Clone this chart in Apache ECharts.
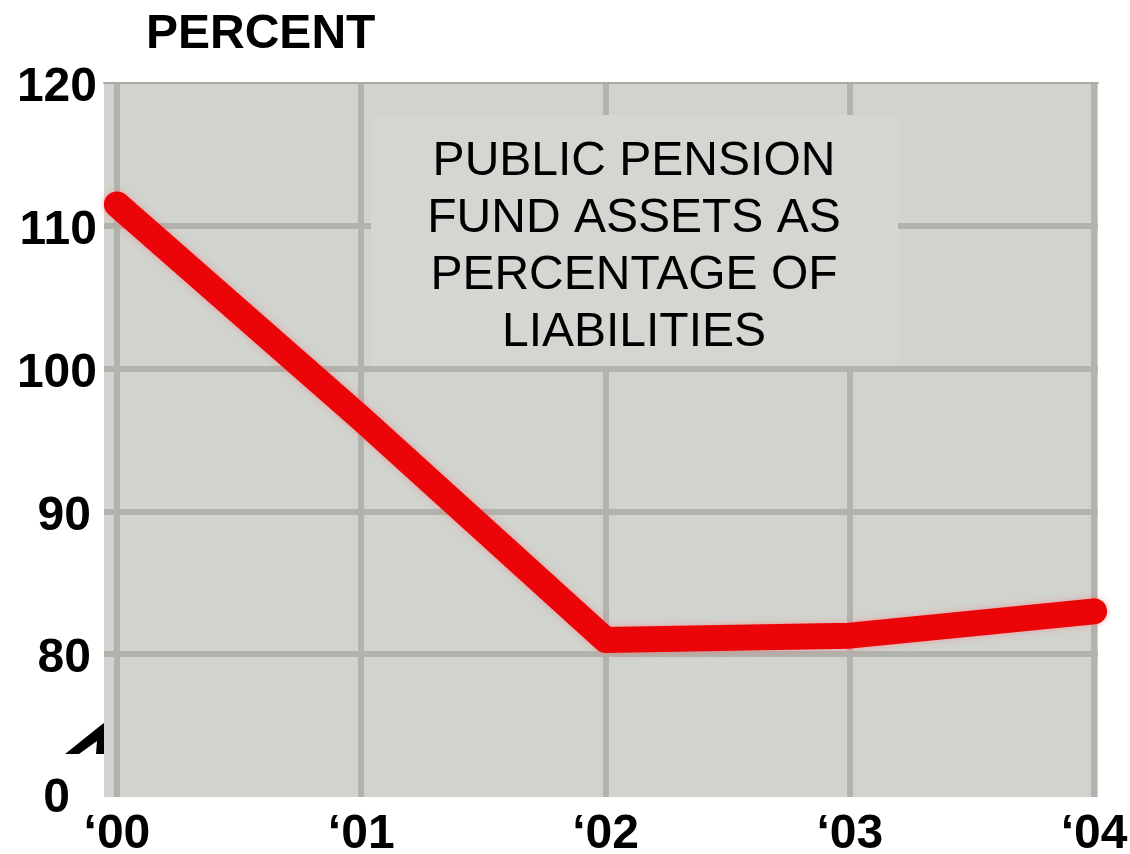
<!DOCTYPE html>
<html>
<head>
<meta charset="utf-8">
<script src="https://cdn.jsdelivr.net/npm/echarts@6/dist/echarts.min.js"></script>
<style>
  html, body { margin: 0; padding: 0; background: #ffffff; }
  #chart { width: 1130px; height: 854px; }
</style>
</head>
<body>
<div id="chart"></div>
<script>
// Year ticks on the horizontal axis
const yearPositions = [0, 1, 2, 3, 4];
const yearLabels = ['\u201800', '\u201801', '\u201802', '\u201803', '\u201804'];

// Public pension fund assets as a percentage of liabilities
const fundedRatio = [111.5, 96.5, 81.0, 81.3, 83.0];

// Vertical axis ticks; the lowest tick stands for the broken-axis zero
const yTicks = [70, 80, 90, 100, 110, 120];
const yTickLabels = ['0', '80', '90', '100', '110', '120'];

const unitLabel = 'PERCENT';
const noteLines = ['PUBLIC PENSION', 'FUND ASSETS AS', 'PERCENTAGE OF', 'LIABILITIES'];

const FONT = '"Liberation Sans", Arial, Helvetica, sans-serif';
const GRID_COLOR = '#b1b3ad';
const PLOT_BG = '#d1d3ce';

const chart = echarts.init(document.getElementById('chart'), null, { renderer: 'canvas' });

const labelStyle = { fontFamily: FONT, fontSize: 48, fontWeight: 'bold', color: '#000000' };

const option = {
  backgroundColor: '#ffffff',
  animation: false,
  grid: {
    left: 104, right: 32, top: 83, bottom: 57,
    outerBoundsMode: 'none',
    containLabel: false,
    show: true, backgroundColor: PLOT_BG, borderWidth: 0
  },
  xAxis: [{
    type: 'value',
    min: -0.053, max: 4.016,
    axisLine: { show: false },
    axisTick: { show: false, customValues: yearPositions },
    axisLabel: {
      customValues: yearPositions,
      margin: 14,
      ...labelStyle,
      formatter: v => yearLabels[yearPositions.indexOf(Math.round(v))]
    },
    splitLine: { show: true, lineStyle: { color: GRID_COLOR, width: 6 } }
  }, {
    type: 'value',
    position: 'top',
    min: -0.053, max: 4.016,
    axisLine: { show: true, lineStyle: { color: '#a9aba5', width: 2 } },
    axisTick: { show: false },
    axisLabel: { show: false },
    splitLine: { show: false }
  }],
  yAxis: {
    type: 'value',
    min: 70, max: 120, interval: 10,
    axisLine: { show: false },
    axisTick: { show: false },
    axisLabel: {
      margin: 7,
      ...labelStyle,
      formatter: v => {
        const t = yTickLabels[yTicks.indexOf(v)];
        if (v === 70) return '{z|' + t + '}';
        if (v === 80 || v === 90) return '{m|' + t + '}';
        return '{n|' + t + '}';
      },
      rich: {
        z: { ...labelStyle, padding: [4, 27, 0, 0] },
        m: { ...labelStyle, padding: [10, 6, 0, 0] },
        n: { ...labelStyle, padding: [10, 0, 0, 0] }
      }
    },
    splitLine: {
      show: true,
      lineStyle: {
        color: ['rgba(0,0,0,0)', GRID_COLOR, GRID_COLOR, GRID_COLOR, GRID_COLOR, 'rgba(0,0,0,0)'],
        width: 6
      }
    }
  },
  graphic: [
    {
      type: 'text',
      left: 146, top: 11,
      z: 10,
      style: { text: unitLabel, font: 'bold 48px ' + FONT, fill: '#000000' }
    },
    {
      type: 'rect',
      z: 5,
      shape: { x: 371, y: 115, width: 527, height: 251 },
      style: { fill: '#d4d7d1' }
    },
    {
      type: 'text',
      z: 6,
      x: 634, y: 247,
      style: {
        text: noteLines.join('\n'),
        font: '48px ' + FONT,
        lineHeight: 57,
        align: 'center',
        verticalAlign: 'middle',
        fill: '#000000'
      }
    },
    {
      // axis break mark on the left edge
      type: 'polygon',
      z: 10,
      shape: {
        points: [[65, 754], [100, 726], [104, 723], [104, 754], [96, 754], [97, 741], [79, 754]]
      },
      style: { fill: '#000000' }
    }
  ],
  series: [{
    type: 'line',
    xAxisIndex: 0,
    data: yearPositions.map((x, i) => [x, fundedRatio[i]]),
    symbol: 'none',
    z: 3,
    lineStyle: {
      color: '#ec0508',
      width: 26,
      cap: 'round',
      join: 'round',
      shadowColor: 'rgba(255, 110, 110, 0.55)',
      shadowBlur: 6
    }
  }]
};

chart.setOption(option);
</script>
</body>
</html>
